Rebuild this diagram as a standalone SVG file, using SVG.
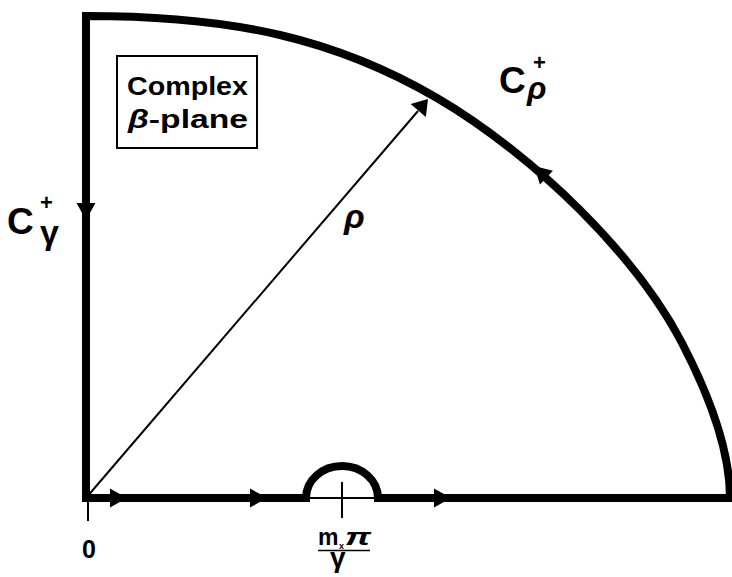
<svg xmlns="http://www.w3.org/2000/svg" width="732" height="577" viewBox="0 0 732 577">
<style>
.thick{fill:none;stroke:#000;stroke-width:8;stroke-linejoin:miter}
.thin{fill:none;stroke:#000;stroke-width:2}
.lbl{font-family:"Liberation Sans",Arial,sans-serif;font-weight:bold;fill:#000}
.ital{font-style:italic}
</style>
<defs>
<path id="ah" d="M0,0 L-17,-9.5 L-17,9.5 Z" fill="#000"/>
<path id="ahs" d="M0,0 L-15,-10 L-15,10 Z" fill="#000"/>
</defs>
<rect width="732" height="577" fill="#fff"/>
<g id="contour">
<path class="thick" d="M86,498 L86,16 C151,16 221.7,21.3 280,35 C338.3,48.7 387,68.8 437,98 C487,127.2 539.2,169.2 580,210 C620.8,250.8 657,295 682,343 C707,391 730,446.3 730,498"/>
<path class="thick" d="M82,498 H306 A36 32 0 0 1 378,498 H736"/>
<path class="thin" d="M306,498 H378"/>
<path class="thin" d="M342,482 V518"/>
<path class="thin" stroke-width="1.5" d="M88,498 V521"/>
</g>
<g id="connectors">
<line class="thin" x1="86" y1="498" x2="418" y2="111"/>
<use href="#ahs" transform="translate(428,99) rotate(-49.4)"/>
<use href="#ah" transform="translate(127,498)"/>
<use href="#ah" transform="translate(267,498)"/>
<use href="#ah" transform="translate(451,498)"/>
<use href="#ah" transform="translate(86,220) rotate(90)"/>
<use href="#ah" transform="translate(534,166) rotate(223)"/>
</g>
<g id="legend">
<rect x="117" y="56" width="140" height="92" fill="#fff" stroke="#000" stroke-width="2"/>
<text class="lbl" x="127" y="95" font-size="26" textLength="121" lengthAdjust="spacingAndGlyphs">Complex</text>
<text class="lbl" x="128" y="128" font-size="26" textLength="120" lengthAdjust="spacingAndGlyphs"><tspan class="ital">β</tspan>-plane</text>
</g>
<g id="label-cgamma">
<text class="lbl" x="7" y="234" font-size="37">C<tspan x="40" y="210" font-size="22">+</tspan><tspan x="40" y="244" font-size="34">γ</tspan></text>
</g>
<g id="label-crho">
<text class="lbl" x="499" y="93" font-size="37">C<tspan x="533" y="70" font-size="22">+</tspan><tspan class="ital" x="527" y="99" font-size="32">ρ</tspan></text>
</g>
<g id="label-rho">
<text class="lbl ital" x="344" y="228" font-size="34">ρ</text>
</g>
<g id="label-zero">
<text class="lbl" x="82" y="558" font-size="25">0</text>
</g>
<g id="label-pole">
<text class="lbl" x="318" y="545" font-size="23">m<tspan x="339" y="549" font-size="9">x</tspan></text>
<text class="lbl ital" x="345" y="545" font-size="24" textLength="26" lengthAdjust="spacingAndGlyphs">π</text>
<line x1="318" y1="550.5" x2="370" y2="550.5" stroke="#000" stroke-width="1.5"/>
<text class="lbl" x="330" y="567" font-size="28">γ</text>
</g>
</svg>
